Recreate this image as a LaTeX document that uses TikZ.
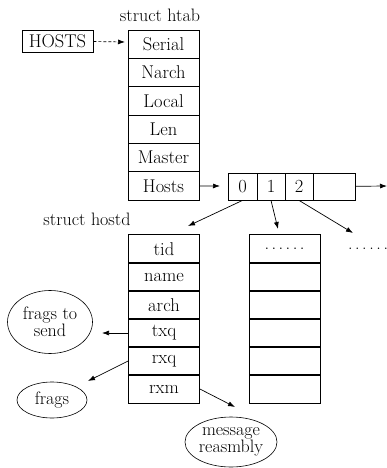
\documentclass[tikz,border=0pt]{standalone}
\usepackage{tikz}
\usetikzlibrary{shapes.geometric,arrows.meta}
\tikzstyle{cell}=[draw,rectangle,line width=0.8pt,minimum width=71pt,minimum height=28.3pt,inner sep=0,font=\fontsize{18.5}{20}\selectfont]
\tikzstyle{slot}=[draw,rectangle,line width=0.8pt,minimum height=27pt,inner sep=0,font=\fontsize{18.5}{20}\selectfont]
\tikzstyle{blob}=[draw,ellipse,line width=0.6pt,inner sep=0,align=center,font=\fontsize{18}{16}\selectfont]
\tikzstyle{lbl}=[inner sep=0,font=\fontsize{18}{20}\selectfont]
\tikzstyle{arr}=[-{Latex[length=7pt,width=5pt]},line width=0.7pt]

\begin{document}
\begin{tikzpicture}[x=1pt,y=-1pt]
\useasboundingbox (0,0) rectangle (387,468);

                        \node[lbl] (htab) at (160,15) {struct htab};
                        \node[slot, minimum width=71pt, minimum height=22pt] (hosts) at (57.5,41) {HOSTS};

                        \node[cell] (serial) at (163.5,44.2) {Serial};
                        \node[cell] (narch) at (163.5,72.5) {Narch};
                        \node[cell] (local) at (163.5,100.8) {Local};
                        \node[cell] (len) at (163.5,129.2) {Len};
                        \node[cell] (master) at (163.5,157.5) {Master};
                        \node[cell] (hostp) at (163.5,185.8) {Hosts};

                        \node[slot, minimum width=29pt] (c0) at (242.5,186.5) {0};
                        \node[slot, minimum width=28pt] (c1) at (271,186.5) {1};
                        \node[slot, minimum width=28pt] (c2) at (299,186.5) {2};
                        \node[slot, minimum width=42pt] (c3) at (334,186.5) {};

                        \node[lbl] (hostd) at (87,219) {struct hostd};

                        \node[cell] (tid) at (164,249) {tid};
                        \node[cell] (name) at (164,277) {name};
                        \node[cell] (arch) at (164,305) {arch};
                        \node[cell] (txq) at (164,333) {txq};
                        \node[cell] (rxq) at (164,361) {rxq};
                        \node[cell] (rxm) at (164,389) {rxm};

                        \node[cell] (d0) at (284.5,249) {\makebox[40pt]{.\hfill.\hfill.\hfill.\hfill.\hfill.}};
                        \node[cell] (d1) at (284.5,277) {};
                        \node[cell] (d2) at (284.5,305) {};
                        \node[cell] (d3) at (284.5,333) {};
                        \node[cell] (d4) at (284.5,361) {};
                        \node[cell] (d5) at (284.5,389) {};

                        \node[lbl] (more) at (368,249) {\makebox[40pt]{.\hfill.\hfill.\hfill.\hfill.\hfill.}};

                        \node[blob, minimum width=85pt, minimum height=63pt] (send) at (50,322) {frags to\\send};
                        \node[blob, minimum width=70pt, minimum height=36pt] (frags) at (52,400) {frags};
                        \node[blob, minimum width=92pt, minimum height=50pt] (reasm) at (231,442) {message\\reasmbly};

                        \coordinate (t0) at (188,226);
                        \coordinate (t1) at (278,229);
                        \coordinate (t2) at (353,233);
                        \coordinate (t3) at (102,333);
                        \coordinate (t4) at (88,381);
                        \coordinate (t5) at (235,407);
                        \coordinate (t6) at (220,186);
                        \coordinate (t7) at (387,186);
                        \coordinate (t8) at (125,42);

                        \draw[arr, densely dashed] (hosts) -- (t8);
                        \draw[arr] (hostp) -- (t6);
                        \draw[arr] (c3) -- (t7);
                        \draw[arr] (c0.south) -- (t0);
                        \draw[arr] (c1.south) -- (t1);
                        \draw[arr] (c2.south) -- (t2);
                        \draw[arr] (txq.west) -- (t3);
                        \draw[arr] (rxq.west) -- (t4);
                        \draw[arr] (rxm.east) -- (t5);

\end{tikzpicture}
\end{document}
